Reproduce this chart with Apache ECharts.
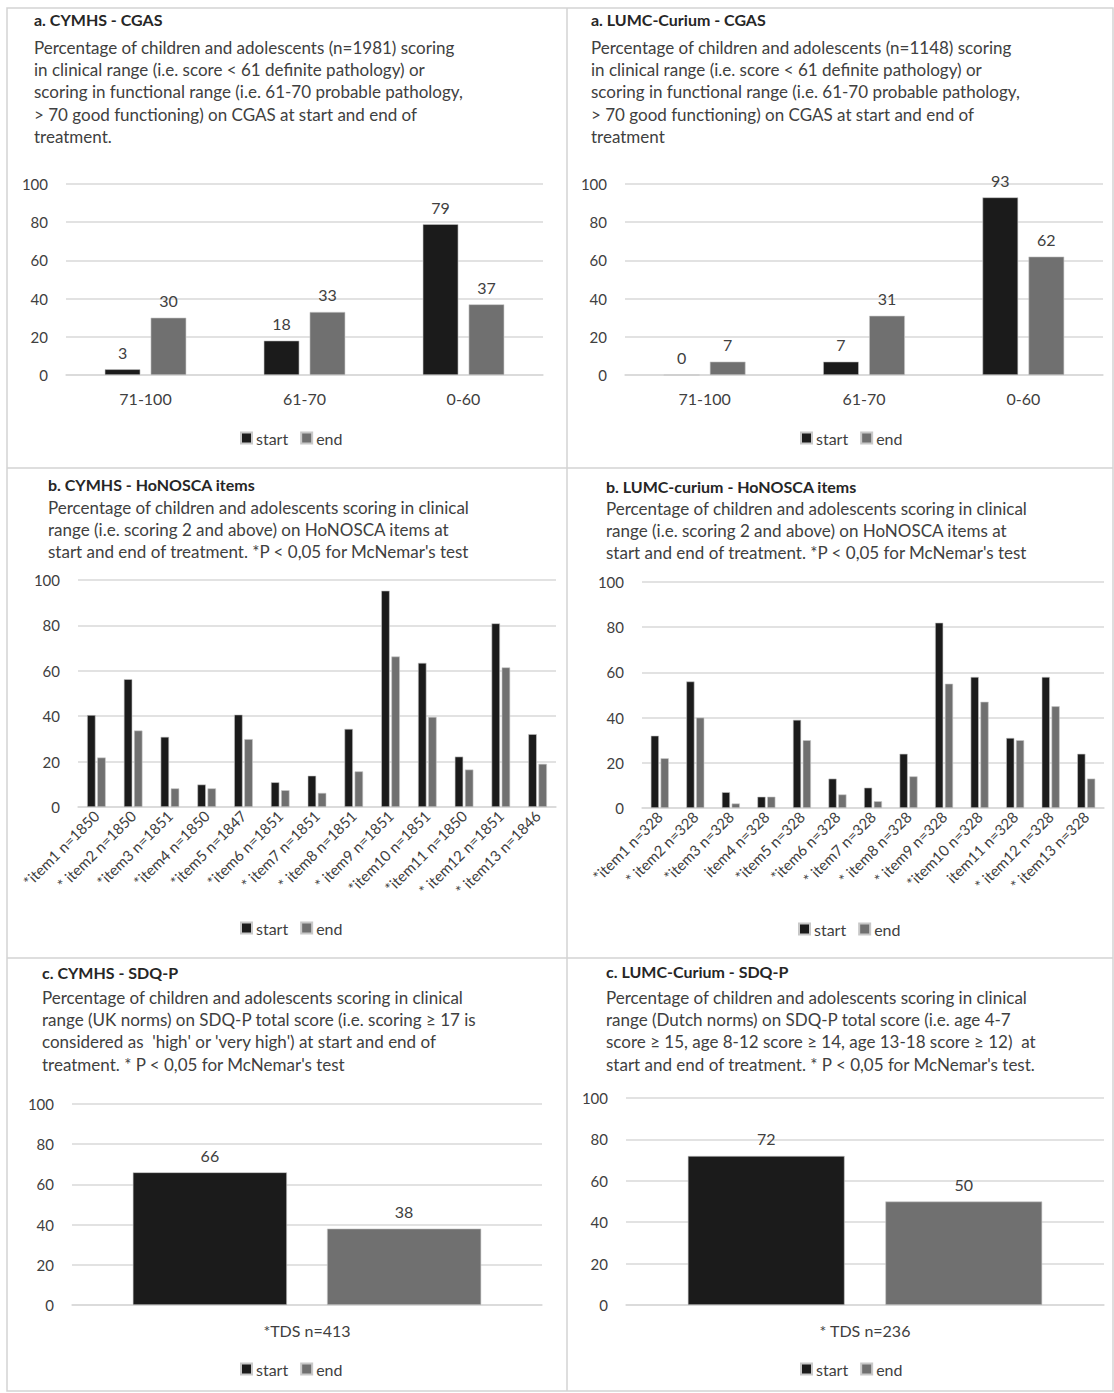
<!DOCTYPE html>
<html>
<head>
<meta charset="utf-8">
<script src="https://cdn.jsdelivr.net/npm/echarts@6/dist/echarts.min.js"></script>
<style>
html,body{margin:0;padding:0;background:#fff;}
#main{width:1114px;height:1393px;}
</style>
</head>
<body>
<div id="main"></div>
<script>
// ---- data ----
const seriesNames = ['start', 'end'];
const cgasCategories = ['71-100', '61-70', '0-60'];
const cymhsCgasStart = [3, 18, 79];
const cymhsCgasEnd = [30, 33, 37];
const lumcCgasStart = [0, 7, 93];
const lumcCgasEnd = [7, 31, 62];

const cymhsItems = ['*item1 n=1850', '* item2 n=1850', '*item3 n=1851', '*item4 n=1850', '*item5 n=1847', '*item6 n=1851', '* item7 n=1851', '* item8 n=1851', '* item9 n=1851', '*item10 n=1851', '*item11 n=1850', '* item12 n=1851', '* item13 n=1846'];
const cymhsHonStart = [40.5, 56.3, 30.9, 9.9, 40.7, 10.9, 13.8, 34.4, 95.3, 63.5, 22.2, 80.9, 32.1];
const cymhsHonEnd = [21.8, 33.7, 8.2, 8.2, 29.9, 7.4, 6.2, 15.7, 66.3, 39.7, 16.5, 61.5, 19.0];

const lumcItems = ['*item1 n=328', '* item2 n=328', '*item3 n=328', 'item4 n=328', '*item5 n=328', '*item6 n=328', '* item7 n=328', '* item8 n=328', '* item9 n=328', '*item10 n=328', 'item11 n=328', '* item12 n=328', '* item13 n=328'];
const lumcHonStart = [32, 56, 7, 5, 39, 13, 9, 24, 82, 58, 31, 58, 24];
const lumcHonEnd = [22, 40, 2, 5, 30, 6, 3, 14, 55, 47, 30, 45, 13];

const cymhsSdqCategory = ['*TDS n=413'];
const cymhsSdqStart = [66];
const cymhsSdqEnd = [38];
const lumcSdqCategory = ['* TDS n=236'];
const lumcSdqStart = [72];
const lumcSdqEnd = [50];

const yTicks = [0, 20, 40, 60, 80, 100];

const panelTitles = ['a. CYMHS - CGAS', 'a. LUMC-Curium - CGAS', 'b. CYMHS - HoNOSCA items', 'b. LUMC-curium - HoNOSCA items', 'c. CYMHS - SDQ-P', 'c. LUMC-Curium - SDQ-P'];
const panelSubtexts = [
  'Percentage of children and adolescents (n=1981) scoring\nin clinical range (i.e. score < 61 definite pathology) or\nscoring in functional range (i.e. 61-70 probable pathology,\n> 70 good functioning) on CGAS at start and end of\ntreatment.',
  'Percentage of children and adolescents (n=1148) scoring\nin clinical range (i.e. score < 61 definite pathology) or\nscoring in functional range (i.e. 61-70 probable pathology,\n> 70 good functioning) on CGAS at start and end of\ntreatment',
  "Percentage of children and adolescents scoring in clinical\nrange (i.e. scoring 2 and above) on HoNOSCA items at\nstart and end of treatment. *P < 0,05 for McNemar's test",
  "Percentage of children and adolescents scoring in clinical\nrange (i.e. scoring 2 and above) on HoNOSCA items at\nstart and end of treatment. *P < 0,05 for McNemar's test",
  "Percentage of children and adolescents scoring in clinical\nrange (UK norms) on SDQ-P total score (i.e. scoring \u2265 17 is\nconsidered as  'high' or 'very high') at start and end of\ntreatment. * P < 0,05 for McNemar's test",
  "Percentage of children and adolescents scoring in clinical\nrange (Dutch norms) on SDQ-P total score (i.e. age 4-7\nscore \u2265 15, age 8-12 score \u2265 14, age 13-18 score \u2265 12)  at\nstart and end of treatment. * P < 0,05 for McNemar's test."
];

// ---- layout ----
const FONT = 'Lato, "Open Sans", sans-serif';
const START_COLOR = '#1b1b1b';
const END_COLOR = '#707070';
const TEXT = '#404040';

const panels = [
  {tx: 34, ty: 10, gap: 7.8, grid: {left: 66, top: 184, width: 477, height: 191}, cats: cgasCategories, s: cymhsCgasStart, e: cymhsCgasEnd, legend: {cx: 290, cy: 439}, kind: 'a'},
  {tx: 591, ty: 10, gap: 7.8, grid: {left: 625, top: 184, width: 478, height: 191}, cats: cgasCategories, s: lumcCgasStart, e: lumcCgasEnd, legend: {cx: 850, cy: 439}, kind: 'a'},
  {tx: 48, ty: 475, gap: 2.8, grid: {left: 78, top: 580, width: 478, height: 227}, cats: cymhsItems, s: cymhsHonStart, e: cymhsHonEnd, legend: {cx: 290, cy: 929}, kind: 'b'},
  {tx: 606, ty: 477, gap: 1.8, grid: {left: 642, top: 582, width: 462, height: 226}, cats: lumcItems, s: lumcHonStart, e: lumcHonEnd, legend: {cx: 848, cy: 930}, kind: 'b'},
  {tx: 42, ty: 963, gap: 4.8, grid: {left: 72, top: 1104, width: 470, height: 201}, cats: cymhsSdqCategory, s: cymhsSdqStart, e: cymhsSdqEnd, legend: {cx: 290, cy: 1370}, kind: 'c'},
  {tx: 606, ty: 962, gap: 5.8, grid: {left: 626, top: 1098, width: 478, height: 207}, cats: lumcSdqCategory, s: lumcSdqStart, e: lumcSdqEnd, legend: {cx: 850, cy: 1370}, kind: 'c'}
];

const option = {
  backgroundColor: '#ffffff',
  animation: false,
  textStyle: {fontFamily: FONT},
  title: [], grid: [], xAxis: [], yAxis: [], series: [], legend: [],
  graphic: [
    {type: 'rect', shape: {x: 7, y: 8, width: 1106, height: 1383}, style: {fill: 'none', stroke: '#d3d3d3', lineWidth: 1.5}, silent: true},
    {type: 'line', shape: {x1: 567, y1: 8, x2: 567, y2: 1391}, style: {stroke: '#d3d3d3', lineWidth: 1.5}, silent: true},
    {type: 'line', shape: {x1: 7, y1: 468, x2: 1113, y2: 468}, style: {stroke: '#d3d3d3', lineWidth: 1.5}, silent: true},
    {type: 'line', shape: {x1: 7, y1: 958, x2: 1113, y2: 958}, style: {stroke: '#d3d3d3', lineWidth: 1.5}, silent: true}
  ]
};

panels.forEach((p, i) => {
  option.title.push({
    text: panelTitles[i],
    subtext: panelSubtexts[i],
    left: p.tx, top: p.ty, padding: 0, itemGap: p.gap,
    textStyle: {fontFamily: FONT, fontSize: 16, fontWeight: 'bold', color: '#262626', lineHeight: 18},
    subtextStyle: {fontFamily: FONT, fontSize: 17, color: TEXT, lineHeight: 22.4}
  });
  option.grid.push(Object.assign({containLabel: false}, p.grid));
  const isB = p.kind === 'b';
  option.xAxis.push({
    type: 'category', gridIndex: i, data: p.cats,
    axisLine: {lineStyle: {color: '#d9d9d9', width: 1.5}},
    axisTick: {show: false},
    axisLabel: isB ? {rotate: 45, fontSize: 15, color: TEXT, margin: 6, interval: 0, fontFamily: FONT}
                   : {fontSize: 16, color: TEXT, margin: p.kind === 'a' ? 15 : 17, fontFamily: FONT}
  });
  option.yAxis.push({
    type: 'value', gridIndex: i, min: yTicks[0], max: yTicks[yTicks.length - 1], interval: yTicks[1] - yTicks[0],
    axisLine: {show: false}, axisTick: {show: false},
    axisLabel: {fontSize: 15, color: TEXT, margin: 18, fontFamily: FONT},
    splitLine: {lineStyle: {color: '#d9d9d9', width: 1.5}}
  });
  let bw, gap;
  if (p.kind === 'a') { bw = '22.4%'; gap = '29%'; }
  else if (p.kind === 'b') { bw = '23%'; gap = '20%'; }
  else { bw = '32.8%'; gap = '26%'; }
  const showLabel = p.kind !== 'b';
  [[p.s, START_COLOR], [p.e, END_COLOR]].forEach(([vals, color], k) => {
    option.series.push({
      type: 'bar', name: seriesNames[k], xAxisIndex: i, yAxisIndex: i,
      data: vals, barWidth: bw, barGap: gap,
      itemStyle: {color: color, borderColor: '#c8c8c8', borderWidth: 0.6},
      label: {show: showLabel, position: 'top', distance: 9, fontSize: 16, color: TEXT, fontFamily: FONT},
      emphasis: {disabled: true}
    });
  });
  option.legend.push({
    data: seriesNames, icon: 'rect', itemWidth: 11, itemHeight: 11, itemGap: 12,
    left: p.legend.cx - 50, top: p.legend.cy - 9, padding: 0, selectedMode: false,
    textStyle: {fontSize: 16, color: TEXT, fontFamily: FONT, padding: [0, 0, 0, -1]}
  });
});

const chart = echarts.init(document.getElementById('main'), null, {renderer: 'svg', width: 1114, height: 1393});
chart.setOption(option);
</script>
</body>
</html>
